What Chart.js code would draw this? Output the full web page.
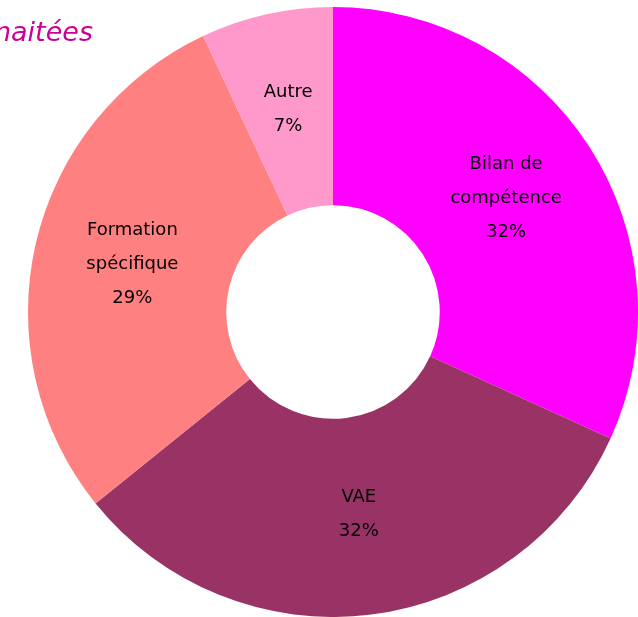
<!DOCTYPE html>
<html>
<head>
<meta charset="utf-8">
<script src="https://cdn.jsdelivr.net/npm/chart.js@4"></script>
<style>
  html, body { margin: 0; padding: 0; background: #fff; overflow: hidden; }
  #wrap { position: relative; width: 638px; height: 617px; overflow: hidden; }
  #title { position: absolute; right: 545px; top: 14px; font-family: "DejaVu Sans", sans-serif; font-style: italic; font-size: 27px; color: #CC0099; white-space: nowrap; line-height: 36px; }
  canvas { position: absolute; left: 0; top: 0; }
</style>
</head>
<body>
<div id="wrap">
  <canvas id="c" width="638" height="617"></canvas>
  <div id="title">naitées</div>
</div>
<script>
const categories = ["Bilan de\ncompétence", "VAE", "Formation\nspécifique", "Autre"];
const values = [31.8, 32.4, 28.8, 7.0];
const valueLabels = ["32%", "32%", "29%", "7%"];
const colors = ["#FF00FF", "#993366", "#FF8080", "#FF99CC"];

const labelPlugin = {
  id: "sliceLabels",
  afterDatasetsDraw(chart) {
    const ctx = chart.ctx;
    const meta = chart.getDatasetMeta(0);
    ctx.save();
    ctx.font = "18px 'DejaVu Sans', sans-serif";
    ctx.fillStyle = "#000";
    ctx.textAlign = "center";
    ctx.textBaseline = "middle";
    const lh = 34;
    meta.data.forEach((arc, i) => {
      const p = arc.tooltipPosition();
      const lines = categories[i].split("\n").concat([valueLabels[i]]);
      const startY = p.y - 2 - (lines.length - 1) * lh / 2;
      lines.forEach((ln, j) => ctx.fillText(ln, p.x, startY + j * lh));
    });
    ctx.restore();
  }
};

new Chart(document.getElementById("c"), {
  type: "doughnut",
  data: {
    labels: categories.map(c => c.replace("\n", " ")),
    datasets: [{
      data: values,
      backgroundColor: colors,
      borderWidth: 0,
      hoverOffset: 0
    }]
  },
  options: {
    responsive: false,
    animation: false,
    cutout: "35%",
    layout: { padding: { left: 28, right: 0, top: 7, bottom: 0 } },
    plugins: { legend: { display: false }, tooltip: { enabled: false } }
  },
  plugins: [labelPlugin]
});
</script>
</body>
</html>
